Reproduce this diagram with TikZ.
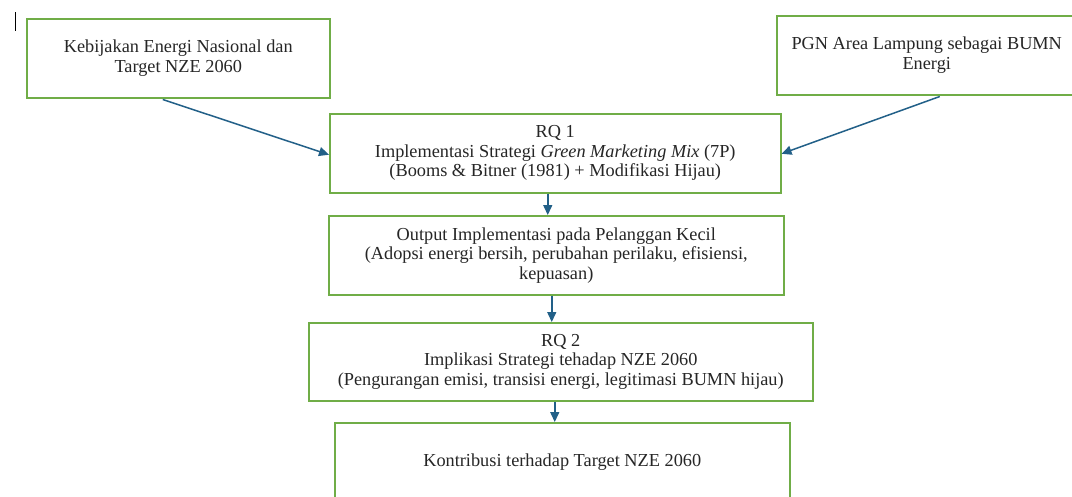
\documentclass[tikz,border=0pt]{standalone}
\usepackage{fontspec}
\setmainfont{Liberation Serif}
\usetikzlibrary{arrows.meta,calc}
\definecolor{boxgreen}{RGB}{112,173,71}
\definecolor{arrowblue}{RGB}{34,96,136}
\tikzset{
  flowbox/.style={draw=boxgreen, line width=1.5pt, fill=white, anchor=north west,
    inner sep=0pt, minimum height=79pt, align=center, text=black!85,
    font=\fontsize{18.3}{19.5}\selectfont},
  arr/.style={draw=arrowblue, line width=1.5pt, -{Triangle[length=10pt,width=9pt]}}
}
\begin{document}
\begin{tikzpicture}[x=1pt,y=-1pt]
\useasboundingbox (0,0) rectangle (1072,496);
\clip (0,0) rectangle (1072,496);
\fill[white] (0,0) rectangle (1072,496);
% text cursor
\draw[black, line width=1.4pt] (15.5,12) -- (15.5,31);
\node[flowbox, minimum width=303pt] (b1) at (26,18) {Kebijakan Energi Nasional dan\\Target NZE 2060};
\node[flowbox, minimum width=300pt] (b2) at (776,15) {PGN Area Lampung sebagai BUMN\\Energi};
\node[flowbox, minimum width=451pt] (b3) at (329,113) {RQ 1\\Implementasi Strategi \textit{Green Marketing Mix} (7P)\\(Booms \& Bitner (1981) + Modifikasi Hijau)};
\node[flowbox, minimum width=455pt] (b4) at (328,215) {Output Implementasi pada Pelanggan Kecil\\(Adopsi energi bersih, perubahan perilaku, efisiensi,\\kepuasan)};
\node[flowbox, minimum width=504pt, minimum height=78pt] (b5) at (308,322) {RQ 2\\Implikasi Strategi tehadap NZE 2060\\(Pengurangan emisi, transisi energi, legitimasi BUMN hijau)};
\node[flowbox, minimum width=455pt] (b6) at (334,422) {Kontribusi terhadap Target NZE 2060};
% connectors
\draw[arr] ([xshift=-15.5pt,yshift=-1pt]b1.south) -- ([yshift=-1.5pt]b3.west);
\draw[arr] ([xshift=13pt,yshift=-1pt]b2.south) -- ([yshift=-0.5pt]b3.east);
\draw[arr] ([xshift=-7.5pt]b3.south) -- ([xshift=-7.5pt]b3.south |- b4.north);
\draw[arr] ([xshift=-4.5pt]b4.south) -- ([xshift=-4.5pt]b4.south |- b5.north);
\draw[arr] ([xshift=-6pt]b5.south) -- ([xshift=-6pt]b5.south |- b6.north);
\end{tikzpicture}
\end{document}
